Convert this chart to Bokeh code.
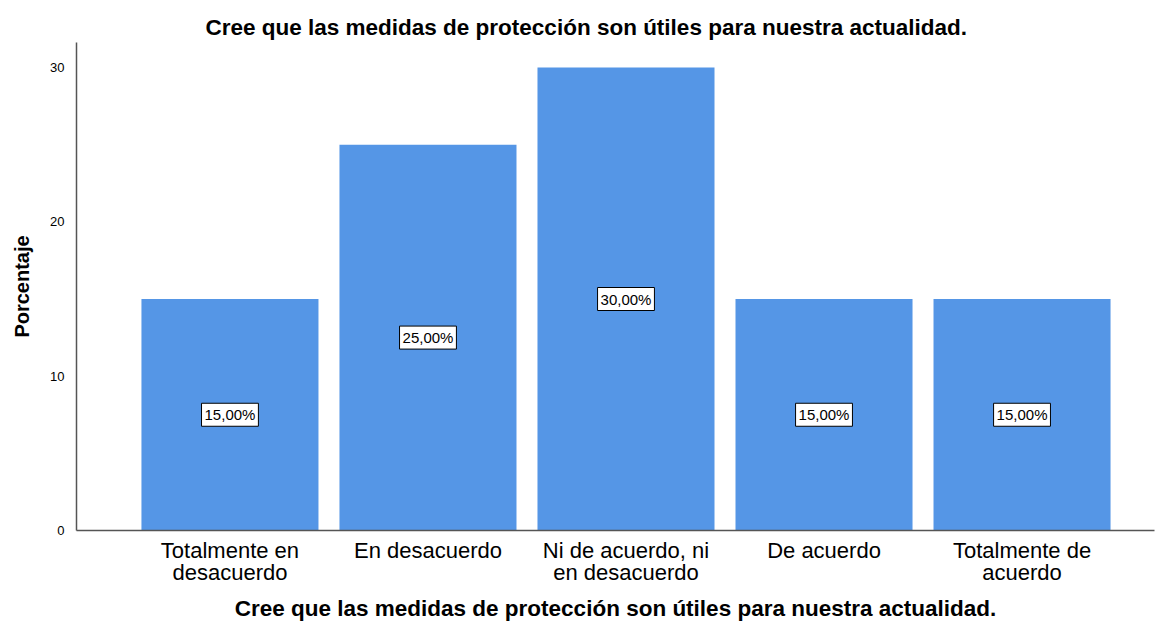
from bokeh.plotting import figure
from bokeh.models import ColumnDataSource, FixedTicker, Label, Range1d, Title
from bokeh.embed import file_html
from bokeh.resources import INLINE

categories = ["Totalmente en\ndesacuerdo", "En desacuerdo", "Ni de acuerdo, ni\nen desacuerdo",
              "De acuerdo", "Totalmente de\nacuerdo"]
values = [15.0, 25.0, 30.0, 15.0, 15.0]
labels = ["15,00%", "25,00%", "30,00%", "15,00%", "15,00%"]
y_ticks = [0, 10, 20, 30]

title_text = "Cree que las medidas de protección son útiles para nuestra actualidad."

x = list(range(len(categories)))
src = ColumnDataSource(dict(x=x, top=values))

p = figure(width=1155, height=623, output_backend="svg", toolbar_location=None,
           x_range=Range1d(-0.775, 4.669), y_range=Range1d(0, 31.62),
           min_border_left=76, min_border_right=1, min_border_bottom=90, min_border_top=42)
p.title = None
t = Title(text=title_text, align="left", offset=129, text_font="Liberation Sans",
          text_font_size="22.5px", text_font_style="bold", text_color="#000000", standoff=6)
p.add_layout(t, "above")

p.vbar(x="x", top="top", width=0.894, source=src, fill_color="#5596E6", line_color=None)

for xi, v, lab in zip(x, values, labels):
    p.add_layout(Label(x=xi, y=v / 2, text=lab, text_align="center", text_baseline="middle",
                       text_font="Liberation Sans", text_font_size="15px", text_color="#000000",
                       background_fill_color="white", border_line_color="black",
                       border_line_width=1, padding=3))

p.grid.visible = False
p.outline_line_color = None

p.xaxis.ticker = FixedTicker(ticks=x)
p.xaxis.major_label_overrides = {i: c for i, c in enumerate(categories)}
p.xaxis.major_tick_line_color = None
p.xaxis.minor_tick_line_color = None
p.xaxis.major_label_text_font = "Liberation Sans"
p.xaxis.major_label_text_font_size = "22px"
p.xaxis.major_label_text_line_height = 0.88
p.xaxis.major_label_text_color = "#000000"
p.xaxis.major_label_standoff = 1
p.xaxis.axis_label = title_text
p.xaxis.axis_label_text_font = "Liberation Sans"
p.xaxis.axis_label_text_font_size = "22.5px"
p.xaxis.axis_label_text_font_style = "bold"
p.xaxis.axis_label_text_color = "#000000"
p.xaxis.axis_label_standoff = 8
p.xaxis.axis_line_color = "#555555"
p.xaxis.axis_line_width = 1.5

p.yaxis.ticker = FixedTicker(ticks=y_ticks)
p.yaxis.major_tick_line_color = None
p.yaxis.minor_tick_line_color = None
p.yaxis.major_label_text_font = "Liberation Sans"
p.yaxis.major_label_text_font_size = "13px"
p.yaxis.major_label_text_color = "#000000"
p.yaxis.major_label_standoff = 6
p.yaxis.axis_label = "Porcentaje"
p.yaxis.axis_label_text_font = "Liberation Sans"
p.yaxis.axis_label_text_font_size = "20px"
p.yaxis.axis_label_text_font_style = "bold"
p.yaxis.axis_label_text_color = "#000000"
p.yaxis.axis_label_standoff = 14
p.yaxis.axis_line_color = "#555555"
p.yaxis.axis_line_width = 1.5

open("out.html", "w").write(file_html(p, INLINE))
